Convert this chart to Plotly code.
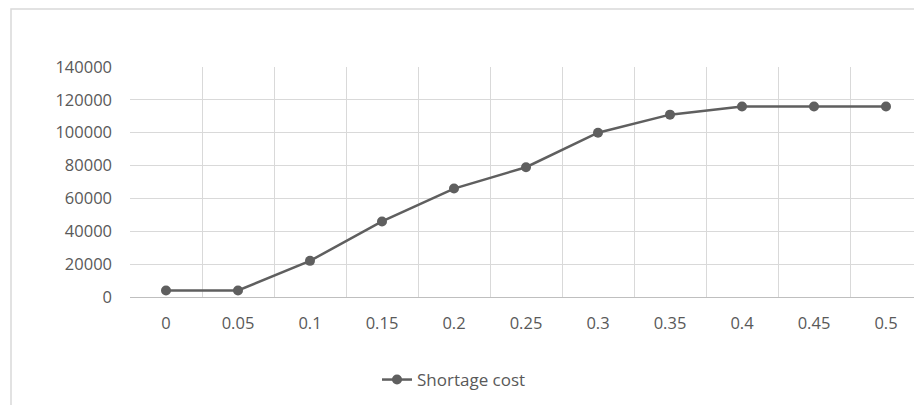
import plotly.graph_objects as go

categories = ["0", "0.05", "0.1", "0.15", "0.2", "0.25", "0.3", "0.35", "0.4", "0.45", "0.5"]
shortage_cost = [4000, 4000, 22000, 46000, 66000, 79000, 100000, 111000, 116000, 116000, 116000]
y_ticks = [0, 20000, 40000, 60000, 80000, 100000, 120000, 140000]
series_name = "Shortage cost"

# page body has an 8px margin, so the figure is sized to end at the window edge
OFF = 8
W, H = 922 - OFF, 405 - OFF
L, R, T, B = 130 - OFF, 0, 67 - OFF, H - (297 - OFF)
pw, ph = W - L - R, H - T - B

line_color = "#5f5f5f"
text_color = "#595959"
grid_color = "#d9d9d9"
font_family = "Open Sans, Noto Sans, sans-serif"

fig = go.Figure()
fig.add_trace(go.Scatter(
    x=categories, y=shortage_cost, name=series_name,
    mode="lines+markers",
    line=dict(color=line_color, width=2.5),
    marker=dict(color=line_color, size=10),
    showlegend=True,
))

def px_x(p):
    return (p - OFF - L) / pw

def px_y(p):
    return (H - B - (p - OFF)) / ph

fig.update_layout(
    width=W, height=H,
    margin=dict(l=L, r=R, t=T, b=B),
    paper_bgcolor="white", plot_bgcolor="white",
    font=dict(family=font_family, size=16, color=text_color),
    xaxis=dict(
        type="category", tickson="boundaries",
        showgrid=True, gridcolor=grid_color, gridwidth=1,
        showline=True, linecolor="#bfbfbf", linewidth=1,
        ticks="", ticklabelstandoff=11,
        tickfont=dict(size=16.5, color=text_color),
        range=[-0.5, 10.5], fixedrange=True,
    ),
    yaxis=dict(
        range=[0, 140000], tickvals=y_ticks,
        ticktext=[str(v) for v in y_ticks],
        showgrid=True, gridcolor=grid_color, gridwidth=1,
        zeroline=False, showline=False, ticks="",
        ticklabelstandoff=17,
        tickfont=dict(size=16.5, color=text_color),
    ),
    legend=dict(
        orientation="h", x=px_x(377), xanchor="left",
        y=px_y(380), yanchor="middle",
        font=dict(size=17, color=text_color),
        bgcolor="rgba(0,0,0,0)",
    ),
    shapes=[dict(
        type="rect", xref="paper", yref="paper",
        x0=px_x(11), x1=px_x(920), y0=px_y(420), y1=px_y(9),
        line=dict(color=grid_color, width=1.5), fillcolor="rgba(0,0,0,0)",
        layer="below",
    )],
)

fig.write_html("out.html")
